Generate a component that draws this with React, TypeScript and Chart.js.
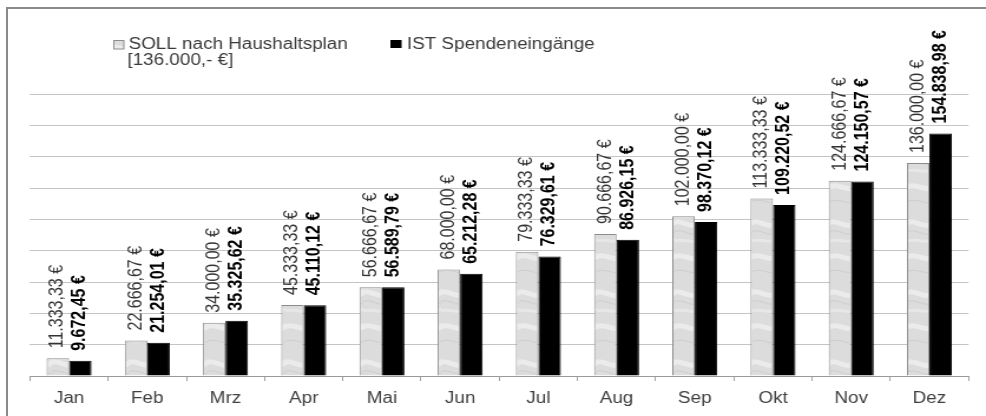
import { useEffect, useRef } from 'react';
import { Chart, registerables } from 'chart.js';

Chart.register(...registerables);

const months = ['Jan', 'Feb', 'Mrz', 'Apr', 'Mai', 'Jun', 'Jul', 'Aug', 'Sep', 'Okt', 'Nov', 'Dez'];
const sollValues = [11333.33, 22666.67, 34000.0, 45333.33, 56666.67, 68000.0, 79333.33, 90666.67, 102000.0, 113333.33, 124666.67, 136000.0];
const istValues = [9672.45, 21254.01, 35325.62, 45110.12, 56589.79, 65212.28, 76329.61, 86926.15, 98370.12, 109220.52, 124150.57, 154838.98];
const sollLegendLines = ['SOLL nach Haushaltsplan', '[136.000,- €]'];
const istLegendText = 'IST Spendeneingänge';
const yMin = 0;
const yMax = 180000;
const yStep = 20000;

const FONT = "'Liberation Sans', Arial, sans-serif";
const STRETCH = 1.18;
const CANVAS_W = Math.round(986 / STRETCH);
const CANVAS_H = 416;

function formatEuro(v: number): string {
  const [intPart, dec] = v.toFixed(2).split('.');
  const withDots = intPart.replace(/\B(?=(\d{3})+(?!\d))/g, '.');
  return `${withDots},${dec} €`;
}

function makeMarble(): CanvasPattern | string {
  const c = document.createElement('canvas');
  c.width = 22;
  c.height = 70;
  const g = c.getContext('2d');
  if (!g) return '#dcdcdc';
  g.fillStyle = '#dcdcdc';
  g.fillRect(0, 0, c.width, c.height);
  g.strokeStyle = 'rgba(245,245,245,0.6)';
  g.lineWidth = 5;
  g.beginPath(); g.moveTo(-2, 14); g.bezierCurveTo(6, 6, 13, 24, 24, 10); g.stroke();
  g.beginPath(); g.moveTo(-2, 48); g.bezierCurveTo(7, 40, 15, 56, 24, 44); g.stroke();
  g.strokeStyle = 'rgba(238,238,238,0.6)';
  g.lineWidth = 3;
  g.beginPath(); g.moveTo(-2, 32); g.bezierCurveTo(5, 26, 12, 36, 24, 28); g.stroke();
  g.strokeStyle = 'rgba(180,180,180,0.35)';
  g.lineWidth = 1;
  g.beginPath(); g.moveTo(-2, 22); g.bezierCurveTo(8, 17, 14, 30, 24, 21); g.stroke();
  g.beginPath(); g.moveTo(-2, 62); g.bezierCurveTo(9, 56, 15, 68, 24, 60); g.stroke();
  return g.createPattern(c, 'repeat') || '#dcdcdc';
}

const valueLabelPlugin = {
  id: 'valueLabels',
  afterDatasetsDraw(chart: any) {
    const ctx = chart.ctx;
    chart.data.datasets.forEach((ds: any, i: number) => {
      const meta = chart.getDatasetMeta(i);
      meta.data.forEach((el: any, j: number) => {
        const v = ds.data[j];
        ctx.save();
        ctx.translate(el.x, el.y - 10);
        ctx.rotate(-Math.PI / 2);
        ctx.textAlign = 'left';
        ctx.textBaseline = 'middle';
        ctx.font = i === 0 ? `16px ${FONT}` : `bold 16px ${FONT}`;
        ctx.fillStyle = i === 0 ? '#333333' : '#000000';
        ctx.fillText(formatEuro(v), 0, 0);
        ctx.restore();
      });
    });
  },
};

const legendPlugin = {
  id: 'customLegend',
  afterDraw(chart: any) {
    const ctx = chart.ctx;
    const ds0 = chart.data.datasets[0];
    const ds1 = chart.data.datasets[1];
    ctx.save();
    ctx.font = `16px ${FONT}`;
    ctx.textBaseline = 'middle';
    ctx.textAlign = 'left';
    // SOLL
    ctx.fillStyle = ds0.backgroundColor;
    ctx.fillRect(96, 40, 9, 9);
    ctx.strokeStyle = '#8c8c8c';
    ctx.lineWidth = 1;
    ctx.strokeRect(96.5, 40.5, 8.5, 8.5);
    ctx.fillStyle = '#3a3a3a';
    ctx.fillText(sollLegendLines[0], 109, 45);
    ctx.fillText(sollLegendLines[1], 108, 61);
    // IST
    ctx.fillStyle = ds1.backgroundColor;
    ctx.fillRect(331, 40, 9.5, 8);
    ctx.fillStyle = '#3a3a3a';
    ctx.fillText(istLegendText, 345, 45);
    ctx.restore();
  },
};

export default function App() {
  const canvasRef = useRef<HTMLCanvasElement | null>(null);

  useEffect(() => {
    const canvas = canvasRef.current;
    if (!canvas) return;
    const marble = makeMarble();
    const chart = new Chart(canvas, {
      type: 'bar',
      data: {
        labels: months,
        datasets: [
          {
            label: sollLegendLines.join(' '),
            data: sollValues,
            backgroundColor: marble as any,
            borderColor: '#8c8c8c',
            borderWidth: 1,
            categoryPercentage: 0.575,
            barPercentage: 1,
          },
          {
            label: istLegendText,
            data: istValues,
            backgroundColor: '#000000',
            borderColor: '#000000',
            borderWidth: 1,
            categoryPercentage: 0.575,
            barPercentage: 1,
          },
        ],
      },
      options: {
        animation: false,
        responsive: false,
        devicePixelRatio: 1,
        layout: { padding: { top: 94, left: 25.4, right: 14.8, bottom: 0 } },
        plugins: {
          legend: { display: false },
          tooltip: { enabled: false },
        },
        scales: {
          x: {
            offset: true,
            afterFit: (scale: any) => {
              scale.height = 40;
            },
            grid: {
              display: true,
              offset: true,
              drawOnChartArea: false,
              drawTicks: true,
              tickLength: 5,
              color: '#a0a0a0',
            },
            border: { display: true, color: '#9a9a9a', width: 1 },
            ticks: { color: '#404040', font: { family: FONT, size: 16 }, padding: 8 },
          },
          y: {
            min: yMin,
            max: yMax,
            ticks: { stepSize: yStep, display: false },
            grid: { color: '#c4c4c4', drawTicks: false, lineWidth: 1 },
            border: { display: false },
          },
        },
      },
      plugins: [valueLabelPlugin, legendPlugin],
    });
    return () => chart.destroy();
  }, []);

  return (
    <div
      style={{
        position: 'fixed',
        left: 0,
        top: 0,
        width: 986,
        height: 416,
        background: '#ffffff',
        overflow: 'hidden',
      }}
    >
      <div
        style={{
          position: 'absolute',
          left: 6,
          top: 7,
          width: 1000,
          height: 420,
          borderLeft: '2px solid #8a8a8a',
          borderTop: '2px solid #8a8a8a',
        }}
      />
      <canvas
        ref={canvasRef}
        width={CANVAS_W}
        height={CANVAS_H}
        style={{ position: 'absolute', left: 0, top: 0, width: '986px', height: '416px' }}
      />
    </div>
  );
}
